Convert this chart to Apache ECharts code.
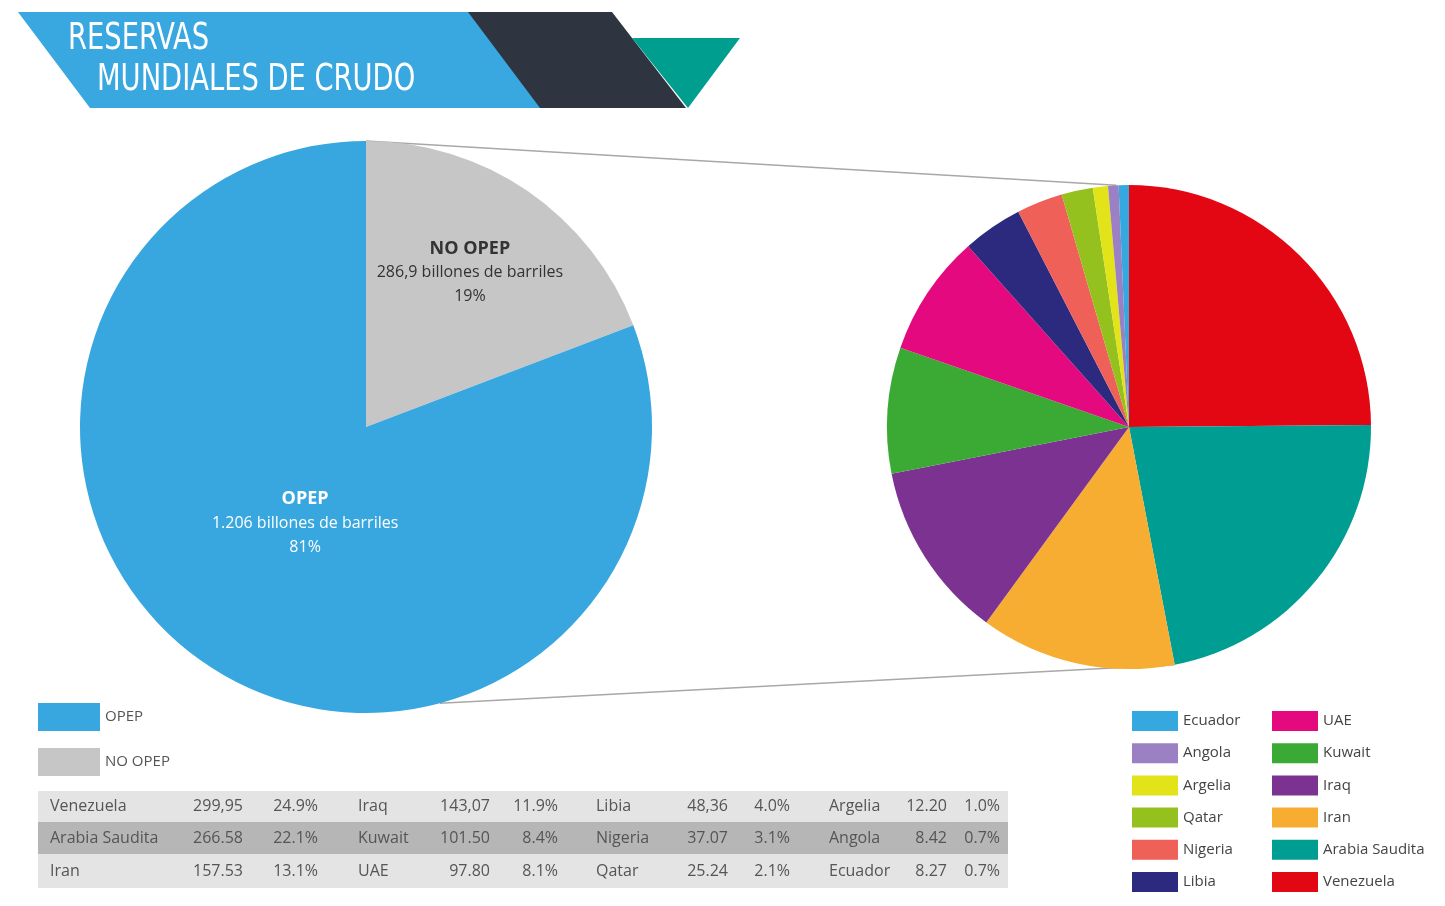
<!DOCTYPE html>
<html>
<head>
<meta charset="utf-8">
<script src="https://cdn.jsdelivr.net/npm/echarts@6/dist/echarts.min.js"></script>
<style>html,body{margin:0;padding:0;background:#fff}#c{width:1445px;height:906px}</style>
</head>
<body>
<div id="c"></div>
<script>
// ---- data ----
const groupNames = ['NO OPEP', 'OPEP'];
const groupValues = [286.9, 1206];
const groupValueLabels = ['286,9', '1.206'];
const groupPctLabels = ['19%', '81%'];

const countries = ['Venezuela', 'Arabia Saudita', 'Iran', 'Iraq', 'Kuwait', 'UAE', 'Libia', 'Nigeria', 'Qatar', 'Argelia', 'Angola', 'Ecuador'];
const countryValues = [299.95, 266.58, 157.53, 143.07, 101.50, 97.80, 48.36, 37.07, 25.24, 12.20, 8.42, 8.27];
const countryValueLabels = ['299,95', '266.58', '157.53', '143,07', '101.50', '97.80', '48,36', '37.07', '25.24', '12.20', '8.42', '8.27'];
const countryPctLabels = ['24.9%', '22.1%', '13.1%', '11.9%', '8.4%', '8.1%', '4.0%', '3.1%', '2.1%', '1.0%', '0.7%', '0.7%'];
const legendCol1 = ['Ecuador', 'Angola', 'Argelia', 'Qatar', 'Nigeria', 'Libia'];
const legendCol2 = ['UAE', 'Kuwait', 'Iraq', 'Iran', 'Arabia Saudita', 'Venezuela'];

// ---- styles ----
const groupColors = {'NO OPEP': '#c6c6c6', 'OPEP': '#38a7e0'};
const countryColors = {
  'Venezuela': '#e30613', 'Arabia Saudita': '#009d93', 'Iran': '#f6ad32', 'Iraq': '#7c3290',
  'Kuwait': '#3aaa35', 'UAE': '#e4097f', 'Libia': '#2b2a7f', 'Nigeria': '#ee6058',
  'Qatar': '#95c11f', 'Argelia': '#e3e31a', 'Angola': '#9b80c4', 'Ecuador': '#35a8e0'
};
const bigC = [366, 427], bigR = 286;
const smallC = [1129, 427], smallR = 242;
const FONT = "'Open Sans', 'Noto Sans', sans-serif";
const TITLE_FONT = "'Liberation Sans Narrow', 'DejaVu Sans Condensed', sans-serif";

function polar(c, r, deg) { // deg clockwise from 12 o'clock
  const a = deg * Math.PI / 180;
  return [c[0] + r * Math.sin(a), c[1] - r * Math.cos(a)];
}
const total = countryValues.reduce((a, b) => a + b, 0);
const cumAngle = k => countryValues.slice(0, k).reduce((a, b) => a + b, 0) / total * 360;

const chart = echarts.init(document.getElementById('c'));

const graphics = [];
// banner
graphics.push({type: 'polygon', shape: {points: [[18, 12], [470, 12], [542, 108], [90, 108]]}, style: {fill: '#39a7e0'}, z: 1});
graphics.push({type: 'polygon', shape: {points: [[468, 12], [612, 12], [686, 108], [540, 108]]}, style: {fill: '#2e3541'}, z: 2});
graphics.push({type: 'polygon', shape: {points: [[632, 38], [740, 38], [688, 108]]}, style: {fill: '#009e8f'}, z: 3});
graphics.push({type: 'text', x: 68, y: 39, scaleX: 0.8, style: {text: 'RESERVAS', font: '38px ' + TITLE_FONT, fill: '#fff', textVerticalAlign: 'middle', verticalAlign: 'middle'}, z: 5});
graphics.push({type: 'text', x: 97, y: 80, scaleX: 0.8, style: {text: 'MUNDIALES DE CRUDO', font: '38px ' + TITLE_FONT, fill: '#fff', textVerticalAlign: 'middle', verticalAlign: 'middle'}, z: 5});

// connector lines
const p1 = polar(bigC, bigR, 0), p2 = polar(smallC, smallR, -3);
const p3 = polar(bigC, bigR, 165), p4 = polar(smallC, smallR, cumAngle(2));
graphics.push({type: 'line', shape: {x1: p1[0], y1: p1[1], x2: p2[0], y2: p2[1]}, style: {stroke: '#a8a8a8', lineWidth: 1.5}, z: 0});
graphics.push({type: 'line', shape: {x1: p3[0], y1: p3[1], x2: p4[0], y2: p4[1]}, style: {stroke: '#a8a8a8', lineWidth: 1.5}, z: 0});

// table
const rowY = [[791, 822], [822, 854], [854, 888]];
const rowFill = ['#e4e4e4', '#b6b6b6', '#e4e4e4'];
rowY.forEach((r, i) => graphics.push({type: 'rect', shape: {x: 38, y: r[0], width: 970, height: r[1] - r[0]}, style: {fill: rowFill[i]}, z: 1}));
const nameX = [50, 358, 596, 829], valX = [243, 490, 728, 947], pctX = [318, 558, 790, 1000];
countries.forEach((name, i) => {
  const col = Math.floor(i / 3), row = i % 3;
  const y = (rowY[row][0] + rowY[row][1]) / 2;
  const base = {font: '16px ' + FONT, fill: '#555', verticalAlign: 'middle', textVerticalAlign: 'middle'};
  graphics.push({type: 'text', x: nameX[col], y: y, style: Object.assign({text: name, align: 'left', textAlign: 'left'}, base), z: 3});
  graphics.push({type: 'text', x: valX[col], y: y, style: Object.assign({text: countryValueLabels[i], align: 'right', textAlign: 'right'}, base), z: 3});
  graphics.push({type: 'text', x: pctX[col], y: y, style: Object.assign({text: countryPctLabels[i], align: 'right', textAlign: 'right'}, base), z: 3});
});

const labelShift = [[21, -34], [22, -24]];

chart.setOption({
  animation: false,
  legend: [
    {data: ['OPEP', 'NO OPEP'], orient: 'vertical', left: 38, top: 703, padding: 0, itemWidth: 62, itemHeight: 28, itemGap: 17, icon: 'rect', selectedMode: false,
      textStyle: {fontFamily: FONT, fontSize: 15, color: '#555'}},
    {data: legendCol1, orient: 'vertical', left: 1132, top: 711, padding: 0, itemWidth: 46, itemHeight: 20, itemGap: 12.2, icon: 'rect', selectedMode: false,
      textStyle: {fontFamily: FONT, fontSize: 15, color: '#444'}},
    {data: legendCol2, orient: 'vertical', left: 1272, top: 711, padding: 0, itemWidth: 46, itemHeight: 20, itemGap: 12.2, icon: 'rect', selectedMode: false,
      textStyle: {fontFamily: FONT, fontSize: 15, color: '#444'}}
  ],
  series: [
    {
      type: 'pie', center: bigC, radius: bigR, startAngle: 90, clockwise: true, silent: true,
      emphasis: {disabled: true},
      data: groupNames.map((n, i) => ({name: n, value: groupValues[i], itemStyle: {color: groupColors[n]},
        label: {color: i === 0 ? '#333' : '#fff'}})),
      label: {
        show: true, position: 'inside', fontFamily: FONT, lineHeight: 24,
        formatter: p => '{b|' + p.name + '}\n{t|' + groupValueLabels[p.dataIndex] + ' billones de barriles}\n{t|' + groupPctLabels[p.dataIndex] + '}',
        rich: {
          b: {fontFamily: FONT, fontWeight: 'bold', fontSize: 18, lineHeight: 24},
          t: {fontFamily: FONT, fontSize: 16, lineHeight: 24}
        }
      },
      labelLine: {show: false},
      labelLayout: p => ({dx: labelShift[p.dataIndex][0], dy: labelShift[p.dataIndex][1]})
    },
    {
      type: 'pie', center: smallC, radius: smallR, startAngle: 90, clockwise: true, silent: true,
      emphasis: {disabled: true},
      label: {show: false}, labelLine: {show: false},
      data: countries.map((n, i) => ({name: n, value: countryValues[i], itemStyle: {color: countryColors[n]}}))
    }
  ],
  graphic: graphics
});
</script>
</body>
</html>
